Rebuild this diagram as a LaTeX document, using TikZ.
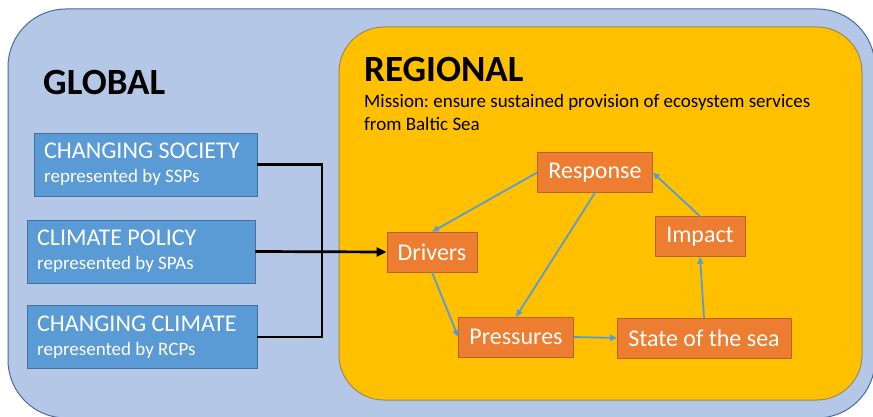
\documentclass[tikz,border=0pt]{standalone}
\usepackage{fontspec}
\setmainfont{Carlito}
\usetikzlibrary{arrows.meta}
\frenchspacing
\definecolor{globalblue}{HTML}{B4C7E7}
\definecolor{globaledge}{HTML}{4A6A9C}
\definecolor{regionyellow}{HTML}{FFC000}
\definecolor{regionedge}{HTML}{9A8A5C}
\definecolor{scenblue}{HTML}{5B9BD5}
\definecolor{scenedge}{HTML}{41719C}
\definecolor{dpsirorange}{HTML}{ED7D31}
\definecolor{dpsiredge}{HTML}{B9622A}
\begin{document}
\begin{tikzpicture}[x=1pt,y=-1pt,
  scen/.style={draw=scenedge,fill=scenblue,text=white,align=flush left,anchor=west,
    inner xsep=10pt,inner ysep=0pt,minimum height=63pt,font=\fontsize{24}{24}\selectfont},
  dpsir/.style={draw=dpsiredge,fill=dpsirorange,text=white,inner xsep=11pt,
    minimum height=40pt,font=\fontsize{24}{28}\selectfont},
  flow/.style={draw=scenblue,line width=1.8pt,-{Triangle[length=7pt,width=6pt]}},
  feed/.style={line width=2.7pt}]
\def\globalbox{(8,9) rectangle (875,418)}
\def\regionalbox{(339,27) rectangle (862,400)}
\def\sub{\fontsize{19}{24}\selectfont}

\useasboundingbox (0,0) rectangle (873,417);
\fill[white] (0,0) rectangle (873,417);

% the two levels
\draw[fill=globalblue,draw=globaledge,line width=1pt,rounded corners=58pt] \globalbox;
\draw[fill=regionyellow,draw=regionedge,line width=1pt,rounded corners=45pt] \regionalbox;

\node[anchor=base west,inner sep=0pt,font=\fontsize{37}{40}\selectfont\bfseries] (global) at (43,95) {GLOBAL};
\node[anchor=base west,inner sep=0pt,font=\fontsize{37}{40}\selectfont\bfseries] (regional) at (364,82) {REGIONAL};
\node[anchor=base west,inner sep=0pt,align=flush left,font=\fontsize{19}{23}\selectfont] (mission) at (364,131)
  {Mission: ensure sustained provision of ecosystem services\\from Baltic Sea};

% scenarios
\node[scen,text width=203pt] (society) at (34,164.5) {CHANGING SOCIETY\\{\sub represented by SSPs}};
\node[scen,text width=208pt] (policy) at (27,251.5) {CLIMATE POLICY\\{\sub represented by SPAs}};
\node[scen,text width=210pt] (climate) at (27,337) {CHANGING CLIMATE\\{\sub represented by RCPs}};

% DPSIR cycle
\node[dpsir] (response) at (595,172.5) {Response};
\node[dpsir] (drivers) at (432,252) {Drivers};
\node[dpsir] (impact) at (700,236.5) {Impact};
\node[dpsir] (pressures) at (516,337) {Pressures};
\node[dpsir] (state) at (704,338) {State of the sea};

\coordinate (bus) at (322,0);
\draw[feed] (society.east) -| (bus |- climate.east) -- (climate.east);
\draw[feed,-{Triangle[length=10pt,width=9pt]}] (policy.east) -- (drivers.west);

\draw[flow] (response.west) -- (drivers.north);
\draw[flow] (response.south) -- (pressures.north);
\draw[flow] (drivers.south) -- (pressures.west);
\draw[flow] (pressures.east) -- (state.west);
\draw[flow] (state.north) -- (impact.south);
\draw[flow] (impact.north) -- (response.east);
\end{tikzpicture}
\end{document}
